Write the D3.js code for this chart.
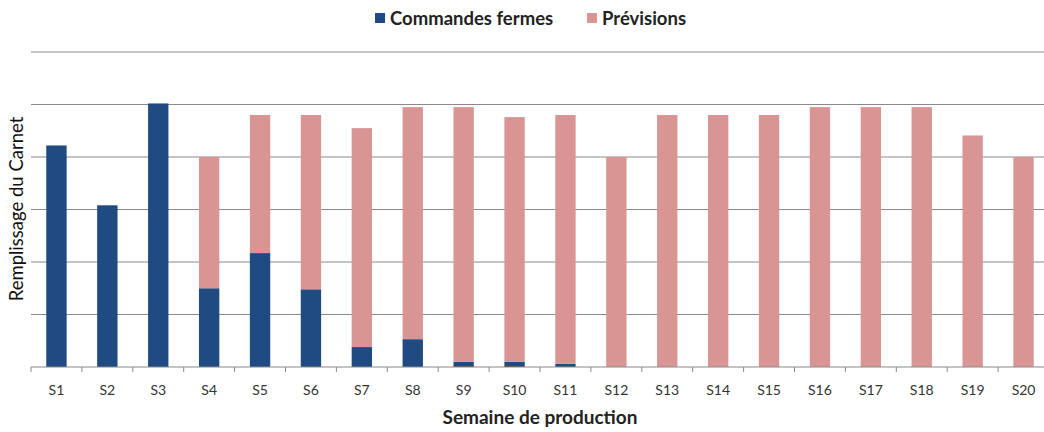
<!DOCTYPE html>
<html>
<head>
<meta charset="utf-8">
<script src="https://cdn.jsdelivr.net/npm/d3@7"></script>
<style>
  body { margin: 0; background: #fff; }
  svg { display: block; font-family: Lato, "Open Sans", sans-serif; }
</style>
</head>
<body>
<svg id="chart" width="1044" height="432"></svg>
<script>
var weeks = ["S1","S2","S3","S4","S5","S6","S7","S8","S9","S10","S11","S12","S13","S14","S15","S16","S17","S18","S19","S20"];
var firmOrders = [4.22, 3.08, 5.02, 1.50, 2.17, 1.48, 0.38, 0.53, 0.10, 0.10, 0.06, 0, 0, 0, 0, 0, 0, 0, 0, 0];
var forecasts  = [0, 0, 0, 2.50, 2.63, 3.32, 4.17, 4.42, 4.85, 4.66, 4.74, 4.00, 4.80, 4.80, 4.80, 4.95, 4.95, 4.95, 4.41, 4.00];
var gridTicks = [1, 2, 3, 4, 5, 6];
var seriesNames = ["Commandes fermes", "Prévisions"];
var colors = ["#204a82", "#d99594"];

var svg = d3.select("#chart");
var plotLeft = 31, plotRight = 1049, plotTop = 52, plotBottom = 367;

var x = d3.scaleBand().domain(weeks).range([plotLeft, plotRight]).paddingInner(0.6).paddingOuter(0.3);
var y = d3.scaleLinear().domain([0, 6]).range([plotBottom, plotTop]);

// gridlines
svg.append("g").selectAll("line")
  .data(gridTicks)
  .join("line")
  .attr("x1", plotLeft).attr("x2", 1044)
  .attr("y1", d => y(d)).attr("y2", d => y(d))
  .attr("stroke", "#8a8a8a").attr("stroke-width", 1.2);

// stacked bars
var rows = weeks.map((w, i) => ({week: w, firm: firmOrders[i], prev: forecasts[i]}));
var stack = d3.stack().keys(["firm", "prev"])(rows);
svg.append("g").selectAll("g")
  .data(stack)
  .join("g")
  .attr("fill", (d, i) => colors[i])
  .selectAll("rect")
  .data(d => d)
  .join("rect")
  .attr("x", d => x(d.data.week))
  .attr("width", x.bandwidth())
  .attr("y", d => y(d[1]))
  .attr("height", d => y(d[0]) - y(d[1]));

// x axis line with ticks at category boundaries
var step = x.step();
var axis = svg.append("g");
axis.append("line")
  .attr("x1", plotLeft).attr("x2", 1044)
  .attr("y1", plotBottom).attr("y2", plotBottom)
  .attr("stroke", "#8a8a8a").attr("stroke-width", 1.2);
axis.selectAll("line.tick")
  .data(d3.range(weeks.length + 1))
  .join("line")
  .classed("tick", true)
  .attr("x1", i => plotLeft + i * step).attr("x2", i => plotLeft + i * step)
  .attr("y1", plotBottom).attr("y2", plotBottom + 5)
  .attr("stroke", "#8a8a8a");
axis.selectAll("text")
  .data(weeks)
  .join("text")
  .attr("x", d => x(d) + x.bandwidth() / 2)
  .attr("y", 395)
  .attr("text-anchor", "middle")
  .attr("font-size", 14)
  .attr("fill", "#333")
  .text(d => d);

// axis titles
svg.append("text")
  .attr("x", 540).attr("y", 424)
  .attr("text-anchor", "middle")
  .attr("font-size", 19).attr("font-weight", "bold")
  .attr("fill", "#222")
  .text("Semaine de production");

svg.append("text")
  .attr("transform", "translate(23,209) rotate(-90)")
  .attr("text-anchor", "middle")
  .attr("font-size", 18.5)
  .attr("fill", "#111")
  .text("Remplissage du Carnet");

// legend
var legend = svg.append("g");
var legendX = [375, 587];
seriesNames.forEach((name, i) => {
  legend.append("rect")
    .attr("x", legendX[i]).attr("y", 13)
    .attr("width", 10).attr("height", 10)
    .attr("fill", colors[i]);
  legend.append("text")
    .attr("x", legendX[i] + 15).attr("y", 24.5)
    .attr("font-size", 18.5).attr("font-weight", "bold")
    .attr("fill", "#222")
    .text(name);
});
</script>
</body>
</html>
